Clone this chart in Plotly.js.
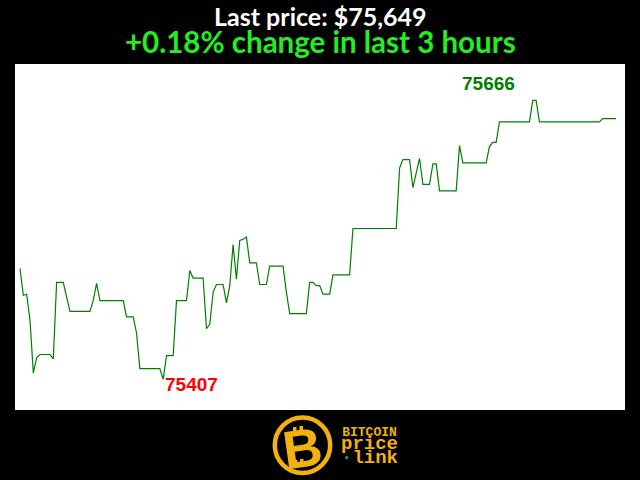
<!DOCTYPE html>
<html>
<head>
<meta charset="utf-8">
<script src="https://cdn.plot.ly/plotly-3.0.1.min.js"></script>
<style>html,body{margin:0;padding:0;background:#000;}#chart{width:640px;height:480px;}</style>
</head>
<body>
<div id="chart"></div>
<script>
// Minute index (0..179 over the last 3 hours) at each vertex of the price line
const minutes = [0,1,2,3,4,5,6,9,10,11,13,15,21,22,23,24,31,32,34,35,36,42,43,44,46,47,50,51,52,55,56,57,58,59,61,62,63,64,65,66,67,68,69,71,72,74,75,79,80,81,86,87,88,89,90,91,93,94,99,100,113,114,115,117,118,120,121,123,124,125,126,131,132,133,140,141,142,143,144,153,154,155,156,174,175,179];
// BTC price (USD) at those minutes
const prices = [75510,75485,75486,75462,75413,75427,75430,75430,75426,75497,75497,75470,75470,75480,75496,75480,75480,75465,75465,75450,75417,75417,75407,75429,75429,75480,75480,75508,75501,75501,75454,75458,75488,75495,75495,75478,75494,75532,75500,75536,75537,75539,75515,75515,75495,75495,75512,75512,75488,75468,75468,75497,75497,75494,75494,75486,75486,75504,75504,75547,75547,75603,75611,75611,75585,75612,75588,75588,75607,75607,75582,75582,75624,75608,75608,75623,75627,75627,75646,75646,75666,75666,75646,75646,75649,75649];

const titleLine1 = "Last price: $75,649";
const titleLine2 = "+0.18% change in last 3 hours";
const logoWords = ["BITCOIN", "price", "link"];

// derived extremes
let iMax = 0, iMin = 0;
prices.forEach((p, i) => { if (p > prices[iMax]) iMax = i; if (p < prices[iMin]) iMin = i; });

// pixel -> paper helpers (plot area 15..625 x 64..410)
const L = 15, R = 625, T = 64, B = 410;
const px = x => (x - L) / (R - L);
const py = y => (B - y) / (B - T);

const gold = "#f2b10c";

const trace = {
  x: minutes, y: prices, type: "scatter", mode: "lines",
  line: {color: "#008000", width: 1.2}, hoverinfo: "none"
};

const annotations = [
  {xref: "paper", yref: "paper", x: 0.5, y: py(30), xanchor: "center", yanchor: "middle",
   text: "<span style='font-size:25px;color:#ffffff'><b>" + titleLine1 + "</b></span><br>" +
         "<span style='font-size:29.5px;color:#22ee22'><b>" + titleLine2 + "</b></span>",
   showarrow: false, borderpad: 0, align: "center",
   font: {family: "Lato", size: 20.8, color: "#ffffff"}},
  {x: minutes[iMax], y: prices[iMax], xref: "x", yref: "y", showarrow: false,
   xshift: -44, yshift: 17, text: "<b>" + prices[iMax] + "</b>",
   font: {family: "Liberation Sans", size: 19, color: "#008000"}},
  {x: minutes[iMin], y: prices[iMin], xref: "x", yref: "y", showarrow: false,
   xshift: 28, yshift: -5, text: "<b>" + prices[iMin] + "</b>",
   font: {family: "Liberation Sans", size: 19, color: "#ff0000"}},
  // logo
  {xref: "paper", yref: "paper", x: px(302), y: py(448), xanchor: "center", yanchor: "middle",
   text: "<b>B</b>", showarrow: false, textangle: -8, borderpad: 0,
   font: {family: "Liberation Sans", size: 54, color: gold}},
  {xref: "paper", yref: "paper", x: px(369), y: py(446.5), xanchor: "center", yanchor: "middle",
   text: "<b><span style='font-size:13px'>" + logoWords[0] + "</span><br>" +
         "<span style='font-size:19px'>" + logoWords[1] + "</span><br>" +
         "<span style='font-size:19px'><span style='color:#22aa22'>·</span>" + logoWords[2] + "</span></b>",
   showarrow: false, borderpad: 0, align: "center",
   font: {family: "Liberation Mono", size: 10.3, color: gold}}
];

const shapes = [
  {type: "circle", xref: "paper", yref: "paper",
   x0: px(274.8), x1: px(330.2), y0: py(417.6), y1: py(473.0),
   line: {color: gold, width: 4.5}, fillcolor: "#000000", layer: "below"},
  // bitcoin strokes
  {type: "rect", xref: "paper", yref: "paper", x0: px(293), x1: px(296.5), y0: py(427), y1: py(435),
   line: {width: 0}, fillcolor: gold},
  {type: "rect", xref: "paper", yref: "paper", x0: px(299.5), x1: px(303), y0: py(426), y1: py(434),
   line: {width: 0}, fillcolor: gold},
  {type: "rect", xref: "paper", yref: "paper", x0: px(294), x1: px(297.5), y0: py(460), y1: py(467),
   line: {width: 0}, fillcolor: gold},
  {type: "rect", xref: "paper", yref: "paper", x0: px(300), x1: px(303.5), y0: py(459), y1: py(466),
   line: {width: 0}, fillcolor: gold},
  // chain link on the stem
  {type: "circle", xref: "paper", yref: "paper", x0: px(288.5), x1: px(293.5), y0: py(437), y1: py(446),
   line: {color: "#000", width: 1.5}, fillcolor: "rgba(0,0,0,0)"},
  {type: "circle", xref: "paper", yref: "paper", x0: px(290), x1: px(295), y0: py(444), y1: py(453),
   line: {color: "#000", width: 1.5}, fillcolor: "rgba(0,0,0,0)"}
];

const layout = {
  width: 640, height: 480,
  paper_bgcolor: "#000000", plot_bgcolor: "#ffffff",
  margin: {l: L, r: 640 - R, t: T, b: 480 - B, pad: 0},
  showlegend: false,
  xaxis: {range: [-1.5, 181.7], showgrid: false, zeroline: false, showticklabels: false, ticks: "", showline: false, fixedrange: true},
  yaxis: {range: [75378.5, 75699.7], showgrid: false, zeroline: false, showticklabels: false, ticks: "", showline: false, fixedrange: true},
  annotations: annotations, shapes: shapes
};

Plotly.newPlot("chart", [trace], layout, {staticPlot: true, displayModeBar: false});
</script>
</body>
</html>
